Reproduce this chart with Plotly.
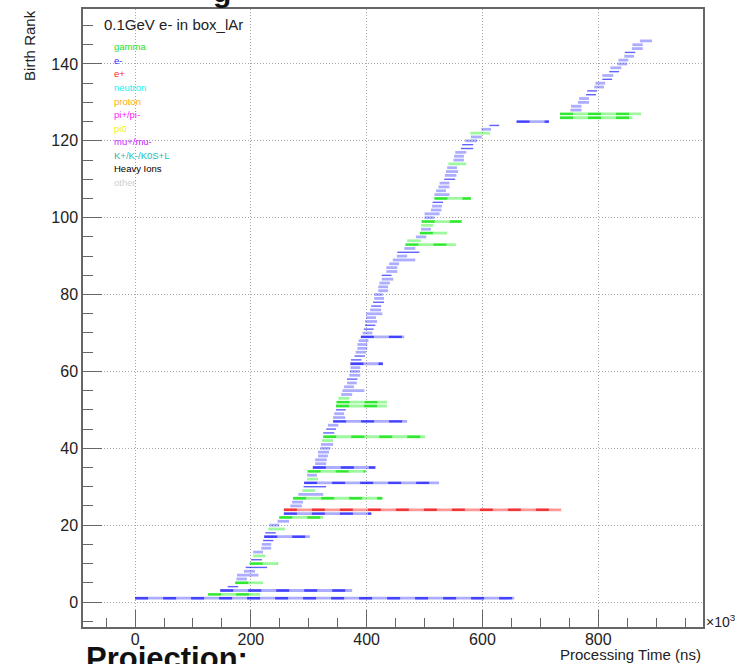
import plotly.graph_objects as go

# ---------------- data ----------------
birth_rank = [1, 2, 3, 4, 5, 6, 7, 8, 9, 10, 11, 12, 13, 14, 15, 16, 17, 18, 19, 20,
              21, 22, 23, 24, 25, 26, 27, 28, 29, 30, 31, 32, 33, 34, 35, 36, 37, 38, 39, 40,
              41, 42, 43, 44, 45, 46, 47, 48, 49, 50, 51, 52, 53, 54, 55, 56, 57, 58, 59, 60,
              61, 62, 63, 64, 65, 66, 67, 68, 69, 70, 71, 72, 73, 74, 75, 76, 77, 78, 79, 80,
              81, 82, 83, 84, 85, 86, 87, 88, 89, 90, 91, 92, 93, 94, 95, 96, 97, 98, 99, 100,
              101, 102, 103, 104, 105, 106, 107, 108, 109, 110, 111, 112, 113, 114, 115, 116, 117, 118, 119, 120,
              121, 122, 123, 124, 125, 126, 127, 128, 129, 130, 131, 132, 133, 134, 135, 136, 137, 138, 139, 140,
              141, 142, 143, 144, 145, 146]

# start / end of processing, in units of 10^3 ns
t_start = [0, 126, 147, 160, 173, 175, 176, 188, 191, 198, 200, 204, 204, 218, 219, 221, 223, 225, 230, 232,
           246, 249, 257, 257, 268, 271, 273, 282, 289, 291, 292, 297, 297, 298, 307, 311, 311, 316, 316, 320,
           321, 323, 325, 325, 330, 333, 342, 342, 344, 347, 347, 348, 351, 356, 358, 361, 366, 366, 370, 371,
           372, 372, 373, 379, 381, 384, 384, 386, 390, 393, 395, 397, 397, 399, 399, 406, 408, 411, 413, 413,
           420, 420, 422, 426, 426, 434, 434, 439, 445, 452, 453, 465, 467, 470, 485, 492, 494, 494, 495, 500,
           500, 511, 513, 514, 517, 517, 520, 524, 526, 534, 535, 537, 539, 541, 550, 551, 553, 563, 565, 570,
           580, 579, 598, 612, 659, 734, 734, 752, 753, 765, 767, 779, 781, 793, 795, 807, 807, 819, 821, 833,
           835, 845, 846, 858, 859, 872]
t_end = [655, 216, 375, 178, 221, 193, 213, 207, 228, 247, 219, 225, 221, 235, 235, 239, 302, 243, 259, 249,
         266, 325, 408, 736, 288, 290, 427, 325, 311, 330, 525, 316, 314, 398, 415, 330, 331, 333, 335, 337,
         342, 342, 501, 344, 347, 351, 470, 363, 361, 364, 435, 435, 370, 375, 396, 378, 383, 384, 389, 388,
         389, 428, 391, 397, 399, 401, 401, 403, 465, 410, 412, 415, 418, 416, 427, 425, 425, 430, 430, 428,
         437, 437, 440, 446, 443, 453, 453, 456, 484, 470, 491, 484, 554, 494, 503, 539, 511, 515, 564, 517,
         526, 529, 530, 532, 580, 543, 537, 543, 543, 553, 555, 558, 556, 572, 568, 568, 572, 584, 584, 591,
         599, 613, 615, 629, 715, 859, 874, 771, 771, 784, 784, 796, 798, 810, 812, 824, 826, 836, 840, 850,
         852, 862, 864, 877, 877, 893]
# particle type per rank: g = gamma, e = e-, p = e+
particle = list(
    "egeegeeeeg" "egeeeeeege" "egepeegege" "egegeeeeee" "eggeeeeeee"
    "gggeeeeeee" "eeeeeeeeee" "eeeeeeeeee" "eeeeeeeeee" "eeggegegge"
    "eeeegeeeee" "eeegeeeeee" "egeeeggeee" "eeeeeeeeee" "eeeeee"
)
# drawing style per rank: p = pale, d = dark thin, m = pale with darker dashes
style = list(
    "mmmdmpppdm" "dppppdmdpp" "pmmmppmppd" "mppmmppppp" "ppmddpmppd"
    "mmpppppdpp" "pmddppppmp" "ddppppddpp" "ppppdppppp" "dpmppmppmp"
    "pppdmppppd" "pppppppddp" "pppdmmmppp" "pddppdpdpp" "ppdppp"
)

legend_labels = ["gamma", "e-", "e+", "neutron", "proton", "pi+/pi-", "pi0",
                 "mu+/mu-", "K+/K-/K0S+L", "Heavy Ions", "other"]
legend_colors = ["#1fe01f", "#2828ff", "#ff2020", "#22f0f0", "#ffb000", "#ff22ff",
                 "#f2f200", "#cc22ff", "#10c0c0", "#000000", "#cfcfcf"]

x_ticks = [0, 200, 400, 600, 800]
y_ticks = [0, 20, 40, 60, 80, 100, 120, 140]

n = len(birth_rank)

pale_col = {"g": "rgba(0,240,0,0.38)", "e": "rgba(0,0,255,0.32)", "p": "rgba(255,0,0,0.40)"}
dark_col = {"g": "rgba(0,225,0,0.70)", "e": "rgba(0,0,255,0.62)", "p": "rgba(235,0,0,0.65)"}

fig = go.Figure()


def segs(sel):
    xs, ys = [], []
    for i in sel:
        xs += [t_start[i], t_end[i], None]
        ys += [birth_rank[i], birth_rank[i], None]
    return xs, ys


for kind in ["g", "e", "p"]:
    pale = [i for i in range(n) if particle[i] == kind and style[i] in "pm"]
    if pale:
        xs, ys = segs(pale)
        fig.add_trace(go.Scatter(x=xs, y=ys, mode="lines", hoverinfo="skip",
                                 line=dict(color=pale_col[kind], width=2.8), showlegend=False))
for kind in ["g", "e", "p"]:
    dark = [i for i in range(n) if particle[i] == kind and style[i] == "d"]
    if dark:
        xs, ys = segs(dark)
        fig.add_trace(go.Scatter(x=xs, y=ys, mode="lines", hoverinfo="skip",
                                 line=dict(color=dark_col[kind], width=1.4), showlegend=False))
    mixed = [i for i in range(n) if particle[i] == kind and style[i] == "m"]
    if mixed:
        xs, ys = segs(mixed)
        fig.add_trace(go.Scatter(x=xs, y=ys, mode="lines", hoverinfo="skip",
                                 line=dict(color=dark_col[kind], width=2.4, dash="13px,15px"),
                                 showlegend=False))

# ---------------- layout ----------------
L, R, T, B = 83, 703, 7, 627
W, H = 743, 664


def px(x):
    return (x - L) / (R - L)


def py(y):
    return (B - y) / (B - T)


FONT = "Liberation Sans, Arial, Helvetica, sans-serif"
ann = []
ann.append(dict(text="0.1GeV e- in box_lAr", x=px(102), y=py(23), xanchor="left", yanchor="middle",
                font=dict(family=FONT, size=15, color="#222")))
for k, (lab, col) in enumerate(zip(legend_labels, legend_colors)):
    ann.append(dict(text=lab, x=px(112), y=py(45 + k * 13.6), xanchor="left", yanchor="middle",
                    font=dict(family=FONT, size=9.5, color=col)))
ann.append(dict(text="Processing Time (ns)", x=px(703), y=py(655), xanchor="right", yanchor="middle",
                font=dict(family=FONT, size=15, color="#222")))
ann.append(dict(text="Birth Rank", x=px(30), y=py(44), xanchor="center", yanchor="middle",
                textangle=-90, font=dict(family=FONT, size=15, color="#222")))
ann.append(dict(text="×10<sup>3</sup>", x=px(704), y=py(621), xanchor="left", yanchor="middle",
                font=dict(family=FONT, size=14, color="#222")))
ann.append(dict(text="<b>Projection:</b>", x=px(84), y=py(639), xanchor="left", yanchor="top",
                font=dict(family=FONT, size=31, color="#111")))
ann.append(dict(text="<b>g</b>", x=px(222), y=py(8), xanchor="center", yanchor="bottom",
                font=dict(family=FONT, size=30, color="#111")))
for a in ann:
    a.update(xref="paper", yref="paper", showarrow=False)

axis_common = dict(showline=True, mirror=True, linecolor="#666", linewidth=1.5,
                   ticks="inside", tickcolor="#666", tickwidth=1.2,
                   showgrid=True, gridcolor="#a8a8a8", griddash="1px,2px", gridwidth=1,
                   zeroline=False, tickfont=dict(family=FONT, size=16, color="#222"))

fig.update_layout(
    width=W, height=H,
    margin=dict(l=L, r=W - R, t=T, b=H - B),
    paper_bgcolor="white", plot_bgcolor="white",
    annotations=ann,
    xaxis=dict(range=[-90, 981], tickvals=x_ticks, ticklen=17, ticklabelstandoff=-3,
               minor=dict(dtick=50, tick0=0, ticks="inside", ticklen=9, tickcolor="#666", showgrid=False),
               **axis_common),
    yaxis=dict(range=[-6.5, 154.3], tickvals=y_ticks, ticklen=19,
               minor=dict(dtick=5, tick0=0, ticks="inside", ticklen=10, tickcolor="#666", showgrid=False),
               **axis_common),
)

fig.write_html("out.html", config={"displayModeBar": False},
               post_script="document.body.style.margin='0';document.body.style.overflow='hidden';")
